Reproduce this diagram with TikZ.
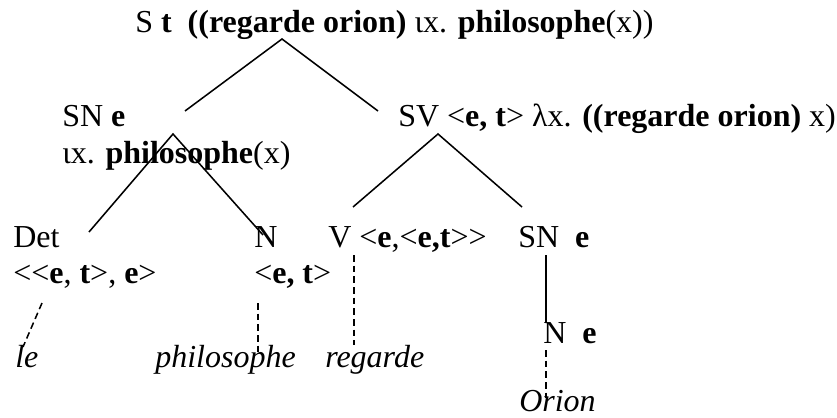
\documentclass[tikz,border=0pt]{standalone}
\usepackage{fontspec}
\setmainfont{Liberation Serif}
\usetikzlibrary{positioning}

\begin{document}
\begin{tikzpicture}[
  x=0.75pt, y=-0.75pt,
  lbl/.style={anchor=base west, inner sep=0pt, font=\fontsize{24}{29}\selectfont},
  word/.style={anchor=base west, inner sep=0pt, font=\fontsize{24}{29}\selectfont\itshape},
  branch/.style={line width=1.15pt},
  leaf/.style={line width=1.15pt, dash pattern=on 5pt off 3pt}
]
  \useasboundingbox (0,0) rectangle (837,417);

  % labels
  \node[lbl] (s) at (135,33) {S \textbf{t}\ \ \textbf{((regarde orion)} ιx. \textbf{philosophe}(x))};
  \node[lbl] (sn) at (62,127) {SN \textbf{e}};
  \node[lbl] (snsem) at (62,163) {ιx. \textbf{philosophe}(x)};
  \node[lbl] (sv) at (398,127) {SV <\textbf{e, t}> λx. \textbf{((regarde orion)} x)};
  \node[lbl] (det) at (13,247) {Det};
  \node[lbl] (dettype) at (13,283) {<\kern0pt<\textbf{e}, \textbf{t}>, \textbf{e}>};
  \node[lbl] (n) at (254,247) {N};
  \node[lbl] (ntype) at (254,283) {<\textbf{e, t}>};
  \node[lbl] (v) at (328,247) {V <\textbf{e},<\textbf{e,t}>\kern0pt>};
  \node[lbl] (sno) at (518,247) {SN\ \ \textbf{e}};
  \node[lbl] (no) at (543,343) {N\ \ \textbf{e}};
  \node[word] (le) at (15,367) {le};
  \node[word] (philo) at (155,367) {philosophe};
  \node[word] (reg) at (325,367) {regarde};
  \node[word] (orion) at (519,411) {Orion};

  % branch points
  \coordinate (s-fork) at (282,39);
  \coordinate (sn-top) at (185,111);
  \coordinate (sv-top) at (378,111);
  \coordinate (sn-fork) at (173,134);
  \coordinate (det-top) at (89,232);
  \coordinate (n-top) at (263,235);
  \coordinate (sv-fork) at (438,134);
  \coordinate (v-top) at (353,207);
  \coordinate (sno-top) at (522,207);
  \coordinate (sno-foot) at (546,255);
  \coordinate (no-top) at (546,323);
  \coordinate (det-foot) at (42,303);
  \coordinate (le-top) at (23,347);
  \coordinate (n-foot) at (258,303);
  \coordinate (philo-top) at (258,353);
  \coordinate (v-foot) at (354,255);
  \coordinate (reg-top) at (354,345);
  \coordinate (no-foot) at (546,350);
  \coordinate (orion-top) at (546,398);

  \draw[branch] (sn-top) -- (s-fork) -- (sv-top);
  \draw[branch] (det-top) -- (sn-fork) -- (n-top);
  \draw[branch] (v-top) -- (sv-fork) -- (sno-top);
  \draw[branch] (sno-foot) -- (no-top);

  \draw[leaf] (det-foot) -- (le-top);
  \draw[leaf] (n-foot) -- (philo-top);
  \draw[leaf] (v-foot) -- (reg-top);
  \draw[leaf] (no-foot) -- (orion-top);
\end{tikzpicture}
\end{document}
